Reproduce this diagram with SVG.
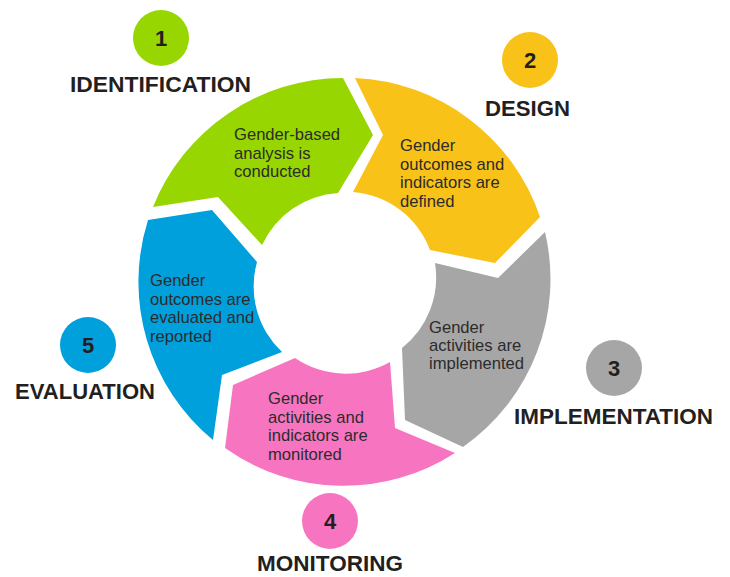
<svg xmlns="http://www.w3.org/2000/svg" width="730" height="577" viewBox="0 0 730 577">
<style>
.title{font-family:"Liberation Sans",Arial,sans-serif;font-weight:bold;font-size:22px;fill:#231f20}
.num{font-family:"Liberation Sans",Arial,sans-serif;font-weight:bold;font-size:22px;fill:#231f20;text-anchor:middle}
.body{font-family:"Liberation Sans",Arial,sans-serif;font-size:16.6px;fill:#2b2b2b}
.green{fill:#97d600}
.yellow{fill:#f8c219}
.gray{fill:#a6a6a6}
.pink{fill:#f775c0}
.blue{fill:#00a0dc}
</style>
<rect width="730" height="577" fill="#ffffff"/>
<g id="identification">
<path class="green" d="M153,207 A205,205 0 0 1 343,78 L373,135 L338,193 A90,90 0 0 0 262,245 L218,197 Z"/>
<text class="body" x="234"><tspan x="234" y="140">Gender-based</tspan><tspan x="234" y="158.5">analysis is</tspan><tspan x="234" y="177">conducted</tspan></text>
<circle class="green" cx="161" cy="38" r="28"/>
<text class="num" x="161" y="46">1</text>
<text class="title" x="70" y="92" textLength="181" lengthAdjust="spacingAndGlyphs">IDENTIFICATION</text>
</g>
<g id="design">
<path class="yellow" d="M355,78 A205,205 0 0 1 540,217 L495,263 L430,250 A90,90 0 0 0 353,192 L383,135 Z"/>
<text class="body"><tspan x="400" y="151">Gender</tspan><tspan x="400" y="169.5">outcomes and</tspan><tspan x="400" y="188">indicators are</tspan><tspan x="400" y="206.5">defined</tspan></text>
<circle class="yellow" cx="530" cy="60" r="28"/>
<text class="num" x="530" y="68">2</text>
<text class="title" x="485" y="116" textLength="85" lengthAdjust="spacingAndGlyphs">DESIGN</text>
</g>
<g id="implementation">
<path class="gray" d="M545,232 A205,205 0 0 1 463,447 L405,420 L402,348 A90,90 0 0 0 435,263 L498,278 Z"/>
<text class="body"><tspan x="429" y="333">Gender</tspan><tspan x="429" y="351">activities are</tspan><tspan x="429" y="369">implemented</tspan></text>
<circle class="gray" cx="614" cy="368" r="28"/>
<text class="num" x="614" y="376">3</text>
<text class="title" x="514" y="424" textLength="199" lengthAdjust="spacingAndGlyphs">IMPLEMENTATION</text>
</g>
<g id="monitoring">
<path class="pink" d="M455,453 A205,205 0 0 1 225,448 L233,385 L295,358 A90,90 0 0 0 390,362 L395,428 Z"/>
<text class="body"><tspan x="268" y="404">Gender</tspan><tspan x="268" y="422.5">activities and</tspan><tspan x="268" y="441">indicators are</tspan><tspan x="268" y="459.5">monitored</tspan></text>
<circle class="pink" cx="330" cy="521" r="28"/>
<text class="num" x="330" y="529">4</text>
<text class="title" x="257" y="571" textLength="146" lengthAdjust="spacingAndGlyphs">MONITORING</text>
</g>
<g id="evaluation">
<path class="blue" d="M213,440 A205,205 0 0 1 148,220 L212,210 L257,262 A90,90 0 0 0 282,352 L222,375 Z"/>
<text class="body"><tspan x="150" y="286">Gender</tspan><tspan x="150" y="304.5">outcomes are</tspan><tspan x="150" y="323">evaluated and</tspan><tspan x="150" y="341.5">reported</tspan></text>
<circle class="blue" cx="88" cy="345" r="28"/>
<text class="num" x="88" y="353">5</text>
<text class="title" x="15" y="399" textLength="140" lengthAdjust="spacingAndGlyphs">EVALUATION</text>
</g>
<g id="connectors"></g>
</svg>
